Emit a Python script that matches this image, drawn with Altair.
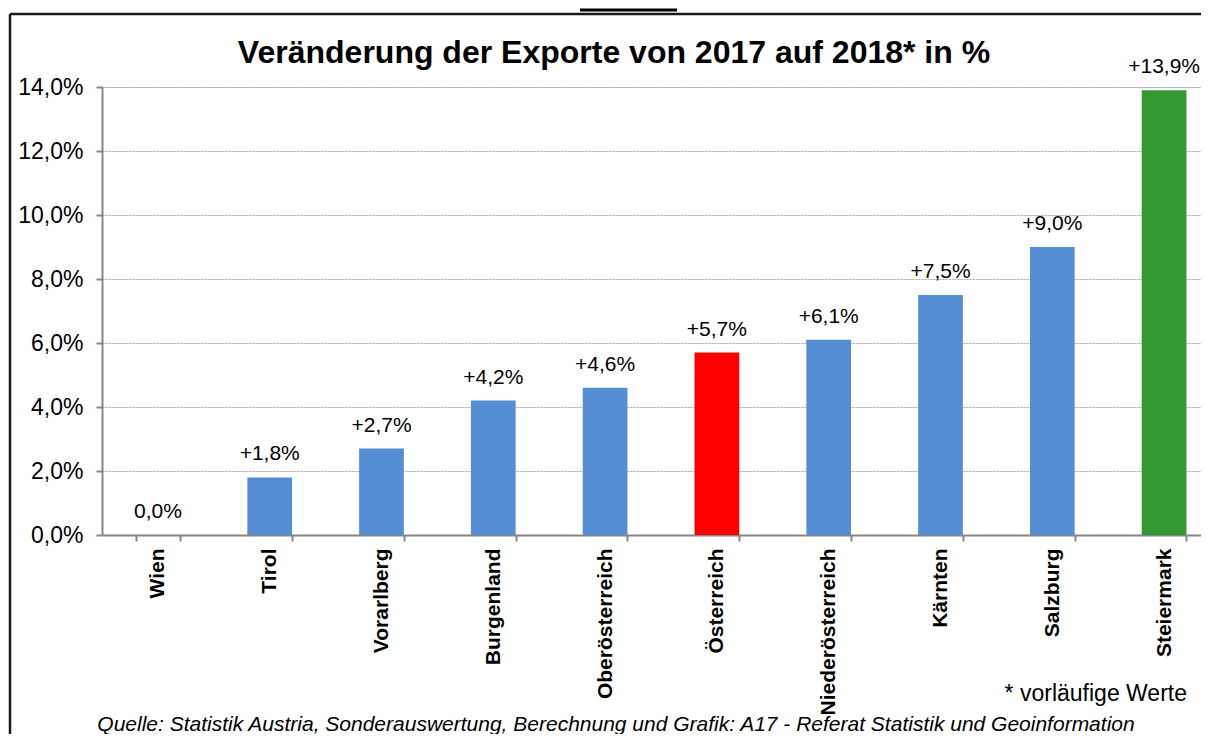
import altair as alt
import pandas as pd

regions = ["Wien", "Tirol", "Vorarlberg", "Burgenland", "Oberösterreich",
           "Österreich", "Niederösterreich", "Kärnten", "Salzburg", "Steiermark"]
values = [0.0, 1.8, 2.7, 4.2, 4.6, 5.7, 6.1, 7.5, 9.0, 13.9]
colors = ["#558ED5", "#558ED5", "#558ED5", "#558ED5", "#558ED5",
          "#FF0000", "#558ED5", "#558ED5", "#558ED5", "#339933"]
y_ticks = [0, 2, 4, 6, 8, 10, 12, 14]

title_text = "Veränderung der Exporte von 2017 auf 2018* in %"
note_text = "* vorläufige Werte"
source_text = "Quelle: Statistik Austria, Sonderauswertung, Berechnung und Grafik: A17 - Referat Statistik und Geoinformation"


def fmt(v):
    s = f"{v:.1f}".replace(".", ",") + "%"
    return s if v == 0 else "+" + s


df = pd.DataFrame({
    "region": regions,
    "value": values,
    "color": colors,
    "label": [fmt(v) for v in values],
})

FONT = "Liberation Sans"
W, H = 1099, 448

x_enc = alt.X("region:N", sort=regions, title=None,
              scale=alt.Scale(paddingInner=0.6, paddingOuter=0.3, range=[0, 1118]),
              axis=alt.Axis(labelAngle=-90, labelFont=FONT, labelFontSize=21,
                            labelFontWeight="bold", labelColor="black",
                            labelPadding=7, tickBand="extent", ticks=True,
                            tickSize=6, tickColor="#868686", tickWidth=2,
                            domainColor="#868686", domainWidth=2,
                            grid=False))
y_enc = alt.Y("value:Q", title=None,
              scale=alt.Scale(domain=[0, 14], nice=False),
              axis=alt.Axis(values=y_ticks, labelFont=FONT, labelFontSize=23,
                            labelColor="black", labelPadding=13,
                            labelExpr="replace(format(datum.value, '.1f'), '.', ',') + '%'",
                            tickSize=6, tickColor="#868686", tickWidth=2,
                            domainColor="#868686", domainWidth=2,
                            grid=True, gridColor="#A8A8A8", gridDash=[2, 1],
                            gridWidth=1))

base = alt.Chart(df)

bars = base.mark_bar().encode(
    x=x_enc, y=y_enc,
    color=alt.Color("color:N", scale=None),
)

labels = base.mark_text(font=FONT, fontSize=21, color="black", dy=-17,
                        baseline="alphabetic").encode(
    x=alt.X("region:N", sort=regions),
    y=alt.Y("value:Q"),
    text="label:N",
)

one = pd.DataFrame({"t": [title_text]})
title = alt.Chart(one).mark_text(font=FONT, fontSize=32, fontWeight="bold",
                                 color="black", align="center",
                                 baseline="alphabetic").encode(
    x=alt.value(512), y=alt.value(-24), text="t:N")

note = alt.Chart(pd.DataFrame({"t": [note_text]})).mark_text(
    font=FONT, fontSize=23, color="black", align="right",
    baseline="alphabetic").encode(x=alt.value(1085), y=alt.value(614), text="t:N")

source = alt.Chart(pd.DataFrame({"t": [source_text]})).mark_text(
    font=FONT, fontSize=21, fontStyle="italic", color="black", align="center",
    baseline="alphabetic").encode(x=alt.value(514), y=alt.value(644), text="t:N")

frame_left = alt.Chart(one).mark_rule(color="#1a1a1a", strokeWidth=2.5).encode(
    x=alt.value(-92), y=alt.value(-73), y2=alt.value(700))
frame_top = alt.Chart(one).mark_rule(color="#1a1a1a", strokeWidth=2.5).encode(
    x=alt.value(-92), x2=alt.value(1200), y=alt.value(-73))
top_bar = alt.Chart(one).mark_rule(color="black", strokeWidth=3).encode(
    x=alt.value(478), x2=alt.value(575), y=alt.value(-77))

chart = alt.layer(bars, labels, title, note, source, frame_left, frame_top, top_bar).properties(
    width=W, height=H,
    autosize=alt.AutoSizeParams(type="none"),
    padding={"left": 94, "top": 79, "right": 0, "bottom": 199},
).configure_view(stroke=None).configure(background="white")

chart.save("out.html", embed_options={"renderer": "svg", "actions": False})
